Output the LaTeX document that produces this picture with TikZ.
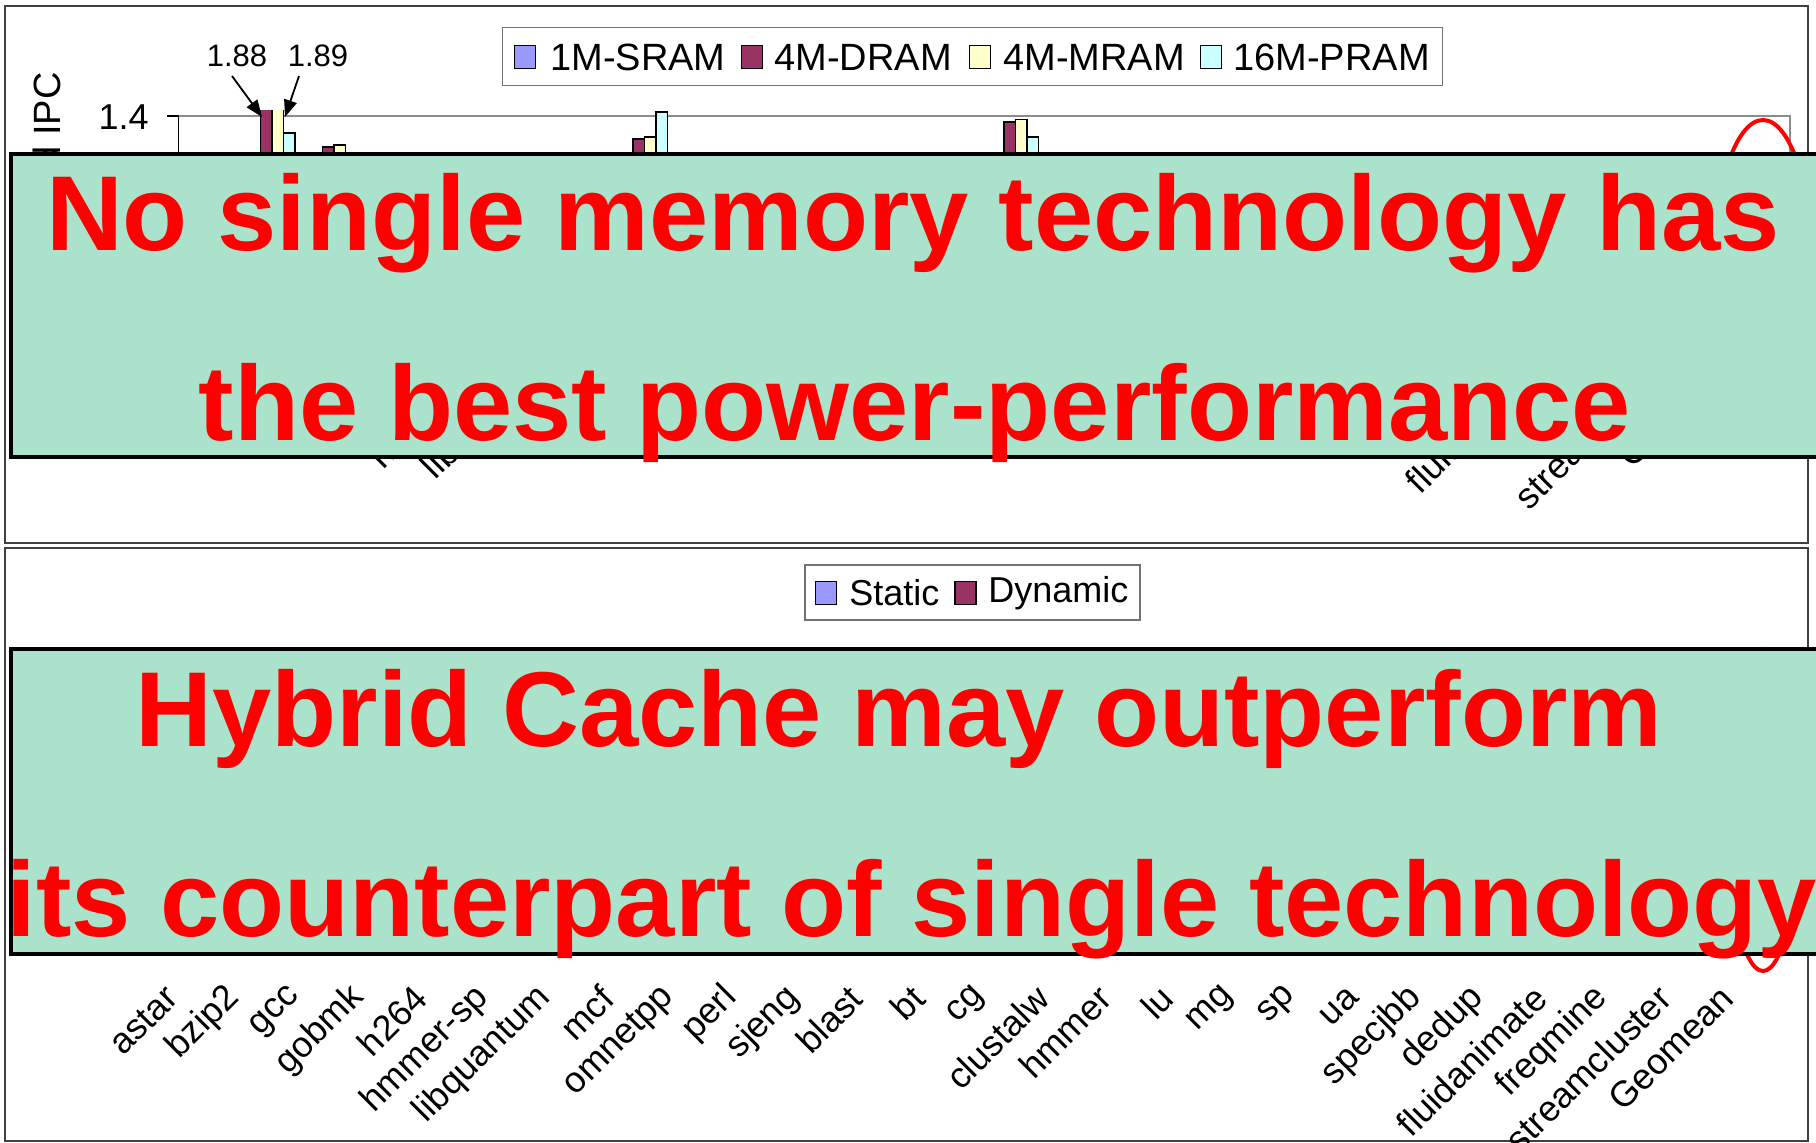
\documentclass[tikz,border=0pt]{standalone}
\usepackage{fontspec}
\setmainfont{Liberation Sans}
\usetikzlibrary{arrows.meta}
\definecolor{sramc}{RGB}{153,153,255}
\definecolor{dramc}{RGB}{153,51,102}
\definecolor{mramc}{RGB}{255,255,204}
\definecolor{pramc}{RGB}{204,255,255}
\definecolor{notefill}{RGB}{170,226,203}
\definecolor{notered}{RGB}{255,0,0}
\begin{document}
\begin{tikzpicture}[x=0.5pt,y=-0.5pt,
  panel/.style={draw=black!75, line width=0.9pt},
  legendbox/.style={draw=black!55, line width=0.8pt, fill=white, inner sep=0pt},
  legkey/.style={draw=black, line width=0.8pt, minimum width=10.5pt, minimum height=11.5pt, inner sep=0pt},
  chartfont/.style={font=\fontsize{18pt}{21pt}\selectfont},
  legtext/.style={chartfont, anchor=west, inner sep=0pt},
  barbox/.style={draw=black, line width=0.75pt},
  gridline/.style={draw=black!45, line width=0.9pt},
  axisline/.style={draw=black, line width=0.6pt},
  notebox/.style={draw=black, line width=2pt, fill=notefill},
  notetext/.style={text=notered, font=\bfseries\fontsize{53.25pt}{60pt}\selectfont, inner sep=0pt, anchor=base},
  catlabel/.style={chartfont, rotate=45, anchor=east, inner sep=0pt},
  hilite/.style={draw=notered, line width=2pt},
  callout/.style={draw=black, line width=0.9pt, -{Triangle[length=8.5pt,width=6.5pt]}},
]
\useasboundingbox (0,0) rectangle (1816,1143);
\fill[white] (0,0) rectangle (1816,1143);

% chart panels
\draw[panel] (5,6) rectangle (1808,543);
\draw[panel] (5,548) rectangle (1808,1141);

% category labels of both charts
\foreach \name [count=\i from 0] in {astar,bzip2,gcc,gobmk,h264,hmmer-sp,libquantum,mcf,omnetpp,perl,sjeng,blast,bt,cg,clustalw,hmmer,lu,mg,sp,ua,specjbb,dedup,fluidanimate,freqmine,streamcluster,Geomean}{
  \node[catlabel] (tl\i) at ({181+62.2*\i},349) {\name};
  \node[catlabel] (bl\i) at ({172+62.2*\i},992) {\name};
}

% upper chart: legend
\node[legendbox, minimum width=470pt, minimum height=29pt] (legA) at (972.5,56.5) {};
\node[legkey, fill=sramc] (kA1) at (525,57) {};
\node[legtext, font=\fontsize{19pt}{22pt}\selectfont] (tA1) at (550,57) {1M-SRAM};
\node[legkey, fill=dramc] (kA2) at (752,57) {};
\node[legtext, font=\fontsize{19pt}{22pt}\selectfont] (tA2) at (774,57) {4M-DRAM};
\node[legkey, fill=mramc] (kA3) at (980,57) {};
\node[legtext, font=\fontsize{19pt}{22pt}\selectfont] (tA3) at (1003,57) {4M-MRAM};
\node[legkey, fill=pramc] (kA4) at (1211,57) {};
\node[legtext, font=\fontsize{19pt}{22pt}\selectfont] (tA4) at (1233,57) {16M-PRAM};

% upper chart: axis, gridline, plot border
\node[chartfont, font=\fontsize{19pt}{22pt}\selectfont, rotate=90, anchor=east, inner sep=0pt] (ytitle) at (47,72) {Normalized IPC};
\node[chartfont, anchor=east, inner sep=0pt] (ytick) at (149,117) {1.4};
\coordinate (g0) at (178.6,116);
\coordinate (g1) at (1790,116);
\coordinate (g2) at (1790,400);
\coordinate (a0) at (178.6,400);
\coordinate (tk) at (167,116);
\draw[gridline] (g0) -- (g1) -- (g2);
\draw[axisline] (tk) -- (g0) -- (a0);

% upper chart: bars that rise above the note
\begin{scope}
  \clip (179,111) rectangle (1789,460);
  % bzip2
  \draw[barbox, fill=dramc] (260.5,100) rectangle (272,330);
  \draw[barbox, fill=mramc] (272,100) rectangle (283.5,330);
  \draw[barbox, fill=pramc] (283.5,133) rectangle (295,330);
  % gcc
  \draw[barbox, fill=dramc] (322.5,147) rectangle (334,330);
  \draw[barbox, fill=mramc] (334,145) rectangle (345.5,330);
  % mcf
  \draw[barbox, fill=dramc] (633,139) rectangle (644.5,330);
  \draw[barbox, fill=mramc] (644.5,137) rectangle (656,330);
  \draw[barbox, fill=pramc] (656,112) rectangle (667.5,330);
  % cg
  \draw[barbox, fill=dramc] (1004,122) rectangle (1015.5,330);
  \draw[barbox, fill=mramc] (1015.5,119.5) rectangle (1027,330);
  \draw[barbox, fill=pramc] (1027,137) rectangle (1038.5,330);
\end{scope}

% upper chart: values of the clipped bars
\node[chartfont, font=\fontsize{15.5pt}{18pt}\selectfont, inner sep=0pt] (v188) at (237,56) {1.88};
\node[chartfont, font=\fontsize{15.5pt}{18pt}\selectfont, inner sep=0pt] (v189) at (318,56) {1.89};
\coordinate (s188) at (232,76);
\coordinate (e188) at (262,117);
\coordinate (s189) at (299,76);
\coordinate (e189) at (285,117);
\draw[callout] (s188) -- (e188);
\draw[callout] (s189) -- (e189);

% highlight rings around Geomean
\draw[hilite] (1763,280) ellipse [x radius=51, y radius=160];
\draw[hilite] (1763,810) ellipse [x radius=36, y radius=161];

% lower chart: legend
\node[legendbox, minimum width=167.5pt, minimum height=27.5pt] (legB) at (972.5,592.5) {};
\node[legkey, fill=sramc] (kB1) at (826,593) {};
\node[legtext] (tB1) at (849,593) {Static};
\node[legkey, fill=dramc] (kB2) at (965.5,593) {};
\node[legtext] (tB2) at (988,593) {Dynamic};

% notes
\draw[notebox] (11,154) rectangle (1830,457);
\node[notetext] (n1a) at (913,251) {No single memory technology has};
\node[notetext] (n1b) at (915,441) {the best power-performance};
\draw[notebox] (11,649) rectangle (1830,954);
\node[notetext] (n2a) at (899,747) {Hybrid Cache may outperform};
\node[notetext, anchor=base west] (n2b) at (6,936) {its counterpart of single technology};
\end{tikzpicture}
\end{document}
